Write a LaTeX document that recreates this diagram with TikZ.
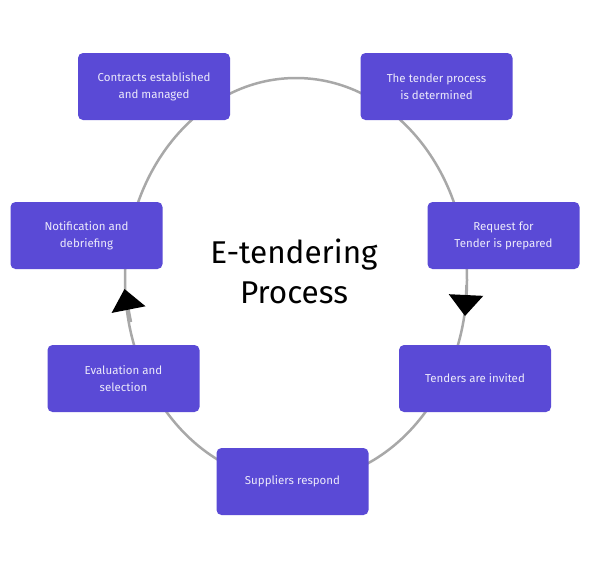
\documentclass[tikz,border=0pt]{standalone}
\usepackage{fontspec}
\setmainfont{Fira Sans}
\usetikzlibrary{arrows.meta}
\definecolor{boxfill}{HTML}{5A4AD6}
\definecolor{boxtext}{HTML}{ECEAFB}
\definecolor{ringgray}{HTML}{A8A8A8}
\tikzset{
  stepbox/.style={draw=none, fill=boxfill, rounded corners=5pt, minimum width=152pt, minimum height=67pt,
    text=boxtext, align=center, font=\fontsize{11.5pt}{17pt}\selectfont, inner sep=0pt},
  ring/.style={draw=ringgray, line width=2.5pt},
  flowtip/.style={-{Triangle[length=21pt,width=34pt,color=black]}, draw=ringgray, line width=2.5pt},
  title/.style={align=center, font=\fontsize{31.5pt}{40pt}\selectfont, text=black}
}
\begin{document}
\begin{tikzpicture}[x=1pt,y=1pt]
\useasboundingbox[fill=white] (0,0) rectangle (605,-574);
\coordinate (ctr) at (296,-280);
% ring behind boxes
\draw[ring] (ctr) ellipse [x radius=171, y radius=202];
% direction marks
\coordinate (rfrom) at (466.5,-285);
\coordinate (rtip) at (465,-316);
\coordinate (lfrom) at (131,-322);
\coordinate (ltip) at (124.5,-289);
\draw[flowtip] (rfrom) -- (rtip);
\draw[flowtip] (lfrom) -- (ltip);
% boxes
\node[stepbox] (tender) at (436.5,-86.5) {The tender process\\is determined};
\node[stepbox] (request) at (503.5,-235.5) {Request for\\Tender is prepared};
\node[stepbox] (invited) at (475,-378.5) {Tenders are invited};
\node[stepbox] (respond) at (292.5,-481.5) {Suppliers respond};
\node[stepbox] (evaluation) at (123.5,-378.5) {Evaluation and\\selection};
\node[stepbox] (notify) at (86.5,-235.5) {Notification and\\debriefing};
\node[stepbox] (contracts) at (154,-86.5) {Contracts established\\and managed};
% title
\node[title] (heading) at (294,-271) {E-tendering\\Process};
\end{tikzpicture}
\end{document}
